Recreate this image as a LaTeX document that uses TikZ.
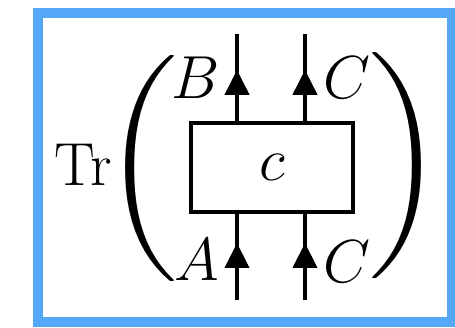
\documentclass[tikz,border=0pt]{standalone}
\usepackage{amsmath}
\usepackage{graphicx}
\usepackage{xcolor}
\usetikzlibrary{arrows.meta,decorations.markings}
\definecolor{frameblue}{RGB}{85,168,248}

\begin{document}
\begin{tikzpicture}[
    x=0.01cm, y=-0.01cm,
    font=\fontsize{16}{19}\selectfont,
    wire/.style={line width=1.2pt},
    upmark/.style={postaction={decorate},
                   decoration={markings, mark=at position #1 with
                   {\arrow{Triangle[length=2.5mm,width=2.4mm]}}}},
    morph/.style={draw, line width=1.2pt, minimum width=1.62cm,
                  minimum height=0.89cm, inner sep=0pt},
    lbl/.style={inner sep=0pt}
]
\useasboundingbox (0,0) rectangle (455,327);
\draw[frameblue, line width=2.85pt] (38,13) rectangle (452,322);

% --- morphism box and its wires ---
\node[morph] (c) at (272,167.5) {$c$};
\coordinate (inA)  at (237,300);
\coordinate (inC)  at (305,300);
\coordinate (outB) at (237,34);
\coordinate (outC) at (305,34);

\draw[wire, upmark=0.57cm] (inA) -- (inA |- c.south);
\draw[wire, upmark=0.57cm] (inC) -- (inC |- c.south);
\draw[wire, upmark=0.51cm] (outB |- c.north) -- (outB);
\draw[wire, upmark=0.51cm] (outC |- c.north) -- (outC);

% --- labels ---
\node[lbl] (lA)  at (197,260) {$A$};
\node[lbl] (lC1) at (347,262) {$C$};
\node[lbl] (lB)  at (196,78)  {$B$};
\node[lbl] (lC2) at (347,78)  {$C$};

% --- trace ---
\node[lbl] (tr) at (83,165) {$\mathrm{Tr}$};
\node[lbl] (lp) at (141,169) {\resizebox*{0.74cm}{2.26cm}{$\Biggl($}};
\node[lbl] (rp) at (407,166) {\resizebox*{0.74cm}{2.26cm}{$\Biggr)$}};

\end{tikzpicture}
\end{document}
